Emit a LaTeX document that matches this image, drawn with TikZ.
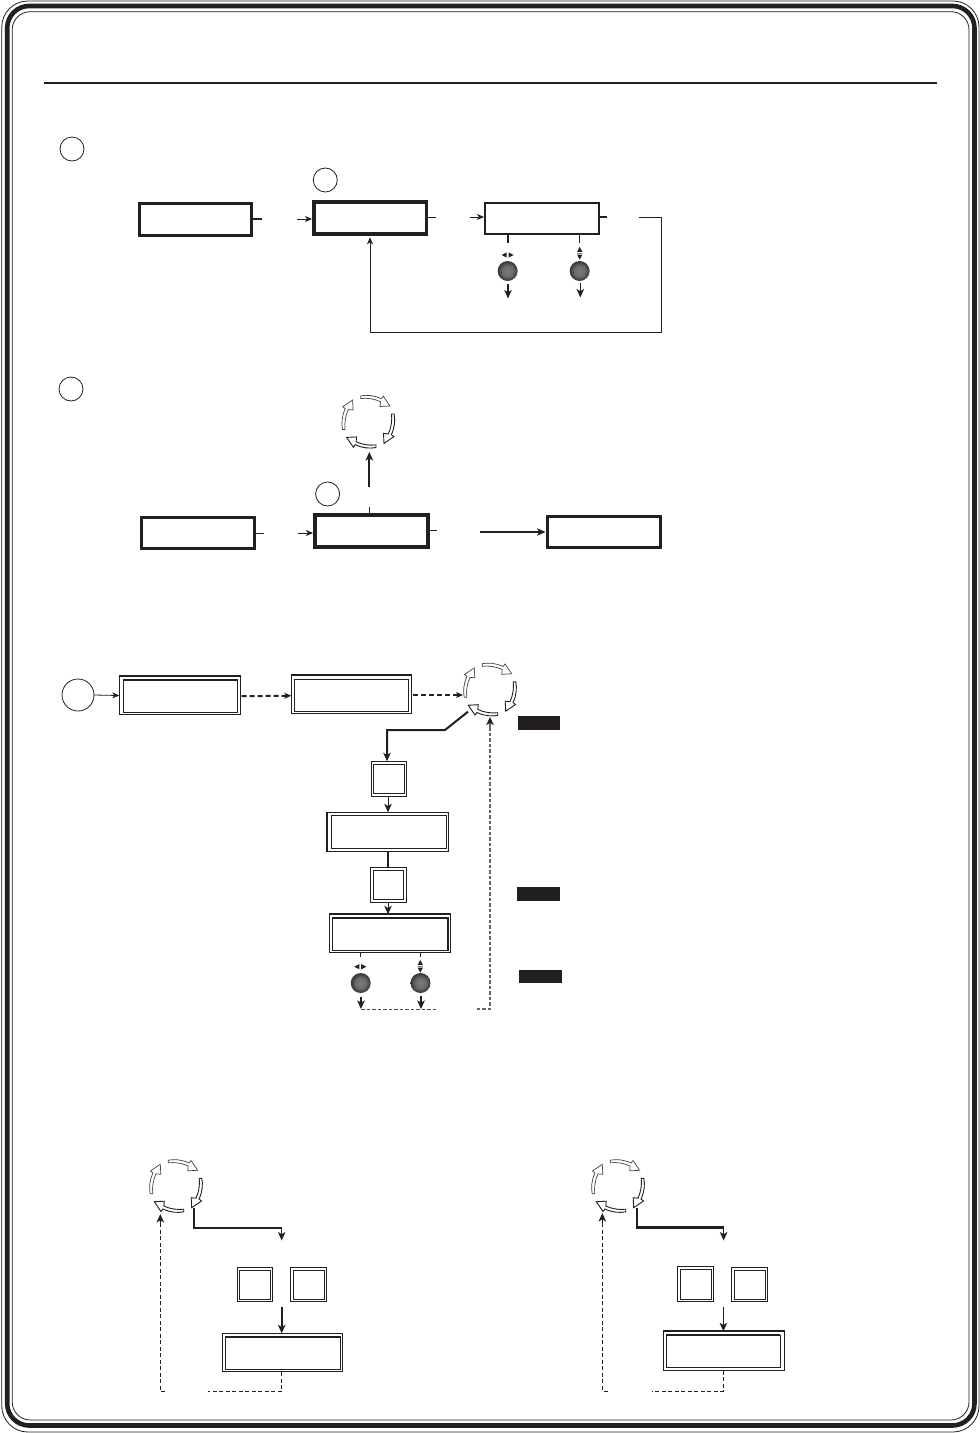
\documentclass[tikz,border=0pt]{standalone}
\usetikzlibrary{arrows.meta}
\definecolor{ink}{HTML}{231F20}
\definecolor{dashgray}{HTML}{666666}
\definecolor{knobA}{HTML}{7C7C7E}
\definecolor{knobB}{HTML}{6A6A6C}
\definecolor{knobC}{HTML}{3E3E40}
\pgfdeclareradialshading{knobshade}{\pgfpoint{0bp}{0bp}}{color(0bp)=(knobA); color(14bp)=(knobB); color(22bp)=(knobC); color(25bp)=(knobC); color(50bp)=(knobC)}
\newcommand{\rbox}[6][3]{% stroke width, name, x0,y0,x1,y1 (visible outer extents)
  \pgfmathsetmacro{\rcx}{(#3+#5)/2}\pgfmathsetmacro{\rcy}{(#4+#6)/2}
  \pgfmathsetmacro{\rw}{abs(#5-#3)-#1}\pgfmathsetmacro{\rh}{abs(#6-#4)-#1}
  \node[plainbox,line width=#1pt,minimum width=\rw pt,minimum height=\rh pt,outer sep=#1pt/2] (#2) at (\rcx,\rcy) {};}
\newcommand{\ibox}[5]{% centre-line extents
  \pgfmathsetmacro{\rcx}{(#2+#4)/2}\pgfmathsetmacro{\rcy}{(#3+#5)/2}
  \pgfmathsetmacro{\rw}{abs(#4-#2)}\pgfmathsetmacro{\rh}{abs(#5-#3)}
  \node[plainbox,line width=1pt,minimum width=\rw pt,minimum height=\rh pt] (#1) at (\rcx,\rcy) {};}
\newcommand{\dbox}[9]{% name, outer coords, inner coords
  \rbox[1.1]{#1}{#2}{#3}{#4}{#5}
  \ibox{#1-i}{#6}{#7}{#8}{#9}}
\newcommand{\cycarm}[2]{% rotation, style
  \begin{scope}[rotate=#1]
    \draw[#2,fill=white,line join=miter]
      (-7.7,-25.8) .. controls (-2,-27) and (6,-26.5) .. (13,-23)
      -- (15,-25.5) -- (21.7,-15.7) -- (11.7,-15.2) -- (12.2,-20)
      .. controls (6,-23) and (-2,-24) .. (-7.7,-23.2) -- cycle;
  \end{scope}}
\newcommand{\cyc}[3]{%
  \node[cychub] (#1) at (#2,#3) {};
  \begin{scope}[shift={(#2,#3)}]
    \cycarm{0}{draw=ink!85,line width=.7pt}
    \cycarm{-90}{draw=ink,line width=.9pt}
    \cycarm{-180}{draw=ink,line width=.9pt}
    \cycarm{-270}{draw=ink!85,line width=.7pt}
  \end{scope}}
\newcommand{\lrg}[2]{\begin{scope}[shift={(#1,#2)}]
  \fill[ink] (-.9,-2.6) -- (-.9,2.6) -- (-6,0) -- cycle;
  \fill[ink] (.9,-2.6) -- (.9,2.6) -- (6,0) -- cycle;
  \end{scope}}
\newcommand{\udg}[2]{\begin{scope}[shift={(#1,#2)}]
  \fill[ink] (-2.6,-1.4) -- (2.6,-1.4) -- (0,-6.4) -- cycle;
  \fill[ink] (-2.6,1.4) -- (2.6,1.4) -- (0,6.4) -- cycle;
  \draw[gray,line width=.5pt] (-2.6,0) -- (2.6,0);
  \end{scope}}
\tikzset{
  plainbox/.style={draw=ink,rectangle,inner sep=0pt,outer sep=0pt,fill=none},
  cychub/.style={circle,minimum size=30pt,inner sep=0pt,draw=none},
  marker/.style={circle,draw=ink,line width=.8pt,inner sep=0pt,minimum size=24pt,outer sep=0pt},
  markerbig/.style={marker,minimum size=32pt},
  knob/.style={circle,inner sep=0pt,minimum size=20pt,shading=knobshade,outer sep=0pt},
  blackbox/.style={rectangle,fill=ink,draw=none,inner sep=0pt,outer sep=0pt},
  thin arrow/.style={draw=ink,line width=.9pt,-{Stealth[length=7pt,width=6pt,inset=2pt]}},
  mid arrow/.style={draw=ink,line width=1.1pt,-{Stealth[length=8.5pt,width=7.5pt,inset=2.2pt]}},
  heavy arrow/.style={draw=ink,line width=2pt,-{Stealth[length=8.5pt,width=7.5pt,inset=2.2pt]}},
  stub/.style={draw=ink,line width=1pt},
  thick stub/.style={draw=ink,line width=2pt},
  bold dash/.style={draw=ink,line width=2pt,dash pattern=on 5pt off 3pt},
  gray dash/.style={draw=dashgray,line width=1.3pt,dash pattern=on 3.5pt off 2pt},
  fine dash/.style={draw=ink,line width=.9pt,dash pattern=on 4pt off 2.5pt},
}
\begin{document}
\begin{tikzpicture}[x=1pt,y=-1pt]
\useasboundingbox (0,0) rectangle (980,1433);
\fill[white] (0,0) rectangle (980,1433);
% frame
\draw[ink,line width=.8pt,rounded corners=26pt] (1.8,1) rectangle (979,1432);
\draw[ink,line width=4.6pt,rounded corners=22pt] (7.2,6) rectangle (974.5,1425.5);
\draw[ink,line width=.8pt,rounded corners=18pt] (12.2,11.7) rectangle (969,1420);
\draw[ink,line width=1.8pt] (44,83) -- (937,83);

% ---- section 1
\node[marker] (m1) at (72,149) {};
\node[marker] (m2) at (325.3,180) {};
\rbox[3]{a1}{137.5}{202.2}{253}{236.5}
\rbox[3.5]{a2}{312}{200}{428}{235.8}
\rbox[2]{a3}{484}{202}{600}{235.2}
\coordinate (a1s) at (262,219); \coordinate (a2t) at (297,219);
\draw[thick stub,line width=1.4pt] (a1.east |- a1s) -- (a1s);
\draw[thin arrow] (a2t) -- (a2t -| a2.west);
\coordinate (a2s) at (436,217); \coordinate (a3t) at (470,217);
\draw[stub] (a2.east |- a2s) -- (a2s);
\draw[thin arrow] (a3t) -- (a3t -| a3.west);
\coordinate (a3s) at (607,217); \coordinate (a3r) at (639,217);
\draw[thick stub] (a3.east |- a3s) -- (a3s);
\coordinate (a3c) at (661,332.5);
\draw[thin arrow,line width=.8pt] (a3r) -| (a3c) -| ([yshift=-1.5pt]a2.south);
\node[knob] (k1) at (507.6,271) {};
\node[knob] (k2) at (579.6,271) {};
\draw[thick stub] (k1.north |- a3.south) -- ++(0,8);
\draw[stub] (k2.north |- a3.south) -- ++(0,8);
\lrg{507.6}{255}
\udg{579.7}{253.2}
\coordinate (k1e) at (508,298.5); \coordinate (k2e) at (580.3,297.5);
\draw[mid arrow] (k1.south -| k1e) ++(0,3) -- (k1e);
\draw[mid arrow] (k2.south -| k2e) ++(0,2) -- (k2e);

% ---- section 2
\node[marker] (m3) at (71,389) {};
\node[marker] (m4) at (327.6,494) {};
\rbox[3]{b1}{139.5}{515.5}{255.5}{549.5}
\rbox[3.5]{b2}{313}{513}{429.5}{548.5}
\rbox[3]{b3}{545.5}{514.5}{662}{548.5}
\coordinate (b1s) at (264,533); \coordinate (b2t) at (298,533);
\draw[stub] (b1.east |- b1s) -- (b1s);
\draw[thin arrow] (b2t) -- (b2t -| b2.west);
\coordinate (b2s) at (437,530); \coordinate (b3t) at (480,532);
\draw[stub] (b2.east |- b2s) -- (b2s);
\draw[mid arrow,line width=1.2pt] (b3t) -- (b3t -| b3.west);
\cyc{cy1}{368.3}{421.7}
\coordinate (b2n) at (369.3,507);
\draw[stub] (b2.north -| b2n) -- (b2n);
\coordinate (u1) at (369.3,487);
\draw[heavy arrow,line width=2.2pt] (u1) -- (369.3,452);

% ---- section 3
\node[markerbig] (m5) at (78,695) {};
\dbox{c1}{119.3}{676}{240.7}{715}{123}{680.2}{237.7}{712.7}
\draw[ink,line width=1.6pt] (c1-i.north west) -- (c1-i.north east);
\draw[ink,line width=1.4pt] (c1.north west) -- (c1.south west) (c1.north west) -- (c1.north east);
\dbox{c2}{291.3}{675}{412}{714}{294.3}{679}{408.7}{711.3}
\draw[ink,line width=1.4pt] (c2.north west) -- (c2.north east);
\draw[thin arrow,line width=.8pt] (m5.east) -- (c1.west);
\draw[bold dash,-{Stealth[length=7pt,width=6pt,inset=2pt]}] (c1.east) ++(1,0.7) -- (c2.west |- 0,695.7);
\cyc{cy2}{490}{689.5}
\coordinate (cs1) at (468,711.7); \coordinate (cs2) at (445,730); \coordinate (cs3) at (387,730);
\draw[bold dash,-{Stealth[length=7pt,width=6pt,inset=2pt]}] (c2.east) ++(1,0.5) -- (463,695);
\dbox{d1}{371.3}{761.3}{406.7}{796.7}{373.6}{764}{404.6}{793.7}
\draw[heavy arrow] (cs1) -- (cs2) -- (cs3) -- (cs3 |- d1.north);
\dbox{d2}{327.3}{812.3}{448.7}{851.7}{331.3}{815.3}{446}{848.7}
\draw[ink,line width=2pt] (d2.north west) -- (d2.south west);
\draw[ink,line width=1.4pt] (d2.south west) -- (d2.south east);
\coordinate (dm) at (388,797);
\draw[mid arrow,line width=.9pt] (dm) -- (dm |- d2.north);
\dbox{d3}{370.3}{867.3}{406.7}{902.7}{373.3}{870.3}{403.7}{899.7}
\draw[thick stub] (d2.south -| dm) -- (d3.north -| dm);
\dbox{d4}{329.3}{914.3}{450.7}{953.3}{332.7}{917.7}{447.7}{950.7}
\draw[ink,line width=1.8pt] (d4.north west) -- (d4.north east) (d4-i.north west) -- (d4-i.north east) -- (d4-i.south east);
\draw[mid arrow,line width=.9pt] (d3.south -| dm) -- (d4.north -| dm);
\node[knob] (k3) at (360.7,983) {};
\node[knob] (k4) at (420.5,983) {};
\draw[stub] (k3.north |- d4.south) -- ++(0,3.5);
\draw[stub] (k4.north |- d4.south) -- ++(0,3.5);
\lrg{360.3}{966.7}
\udg{420.3}{966.3}
\coordinate (k3e) at (361,1009); \coordinate (k4e) at (421,1009);
\draw[gray dash,draw=ink!80,line width=1pt] (k3e) -- (436.7,1009);
\coordinate (dr) at (476.7,1009); \coordinate (dc) at (490,1009);
\draw[heavy arrow] (k3.south -| k3e) ++(0,3.5) -- (k3e);
\draw[heavy arrow] (k4.south -| k4e) ++(0,3) -- (k4e);
\draw[gray dash] (dr) -- (dc) -- (dc |- 0,727);
\draw[draw=dashgray,line width=1.2pt,-{Stealth[length=8pt,width=7.5pt,inset=2pt,color=ink]}] (dc |- 0,727) -- (dc |- 0,717);
\node[blackbox,minimum width=42.5pt,minimum height=14pt] (n1) at (538.8,723) {};
\node[blackbox,minimum width=43pt,minimum height=14pt] (n2) at (538.5,894) {};
\node[blackbox,minimum width=43pt,minimum height=13pt] (n3) at (540.5,976.5) {};

% ---- section 4 left
\cyc{cy3}{176}{1186}
\dbox{e1}{236.7}{1267.3}{272.7}{1301.7}{239.3}{1270}{270}{1299}
\dbox{e2}{290.3}{1267.3}{326.7}{1302.3}{293}{1270}{324}{1299.7}
\dbox{e3}{222.3}{1333.3}{342.7}{1372.3}{225.3}{1336.7}{340}{1369.7}
\draw[ink,line width=1.8pt] (e3-i.north west) -- (e3-i.north east);
\coordinate (es) at (194,1208); \coordinate (ec) at (281.7,1227.5); \coordinate (et) at (281.7,1240.5);
\draw[thick stub] (es) |- (ec);
\draw[mid arrow] (ec) -- (et);
\coordinate (ea) at (281.7,1307);
\draw[heavy arrow] (ea) -- (ea |- e3.north);
\coordinate (el) at (208.3,1391.7); \coordinate (er) at (165,1391.7); \coordinate (eb) at (160.3,1391.7);
\draw[fine dash] (e3.south -| ea) -- (ea |- el) -- (el);
\draw[fine dash] (er) -- (eb) -- (160.3,1225);
\draw[mid arrow] (160.3,1225) -- (160.3,1214);

% ---- section 4 right
\cyc{cy4}{618}{1186}
\dbox{f1}{677.3}{1266.3}{713.7}{1301.7}{680.3}{1269.7}{711}{1299}
\dbox{f2}{731.3}{1267}{767.7}{1302}{734.3}{1270}{765}{1299}
\dbox{f3}{663.3}{1331.3}{784.7}{1370.7}{666.3}{1335}{780.3}{1367.7}
\draw[ink,line width=2.2pt] (f3.north west) -- (f3.north east);
\draw[ink,line width=1.6pt] (f3-i.north west) -- (f3-i.north east);
\coordinate (fs) at (637,1208); \coordinate (fc) at (723.6,1227.5); \coordinate (ft) at (723.6,1240.5);
\draw[thick stub,line width=2.4pt] (fs) |- (fc);
\draw[mid arrow] (fc) -- (ft);
\coordinate (fa) at (723.4,1307);
\draw[mid arrow] (fa) -- (fa |- f3.north);
\coordinate (fl) at (651.7,1391); \coordinate (fr) at (607.7,1391); \coordinate (fb) at (602.3,1391);
\draw[fine dash] (f3.south -| fa) -- (fa |- fl) -- (fl);
\draw[fine dash] (fr) -- (fb) -- (602.3,1224);
\draw[mid arrow] (602.3,1224) -- (602.3,1213);
\end{tikzpicture}
\end{document}
